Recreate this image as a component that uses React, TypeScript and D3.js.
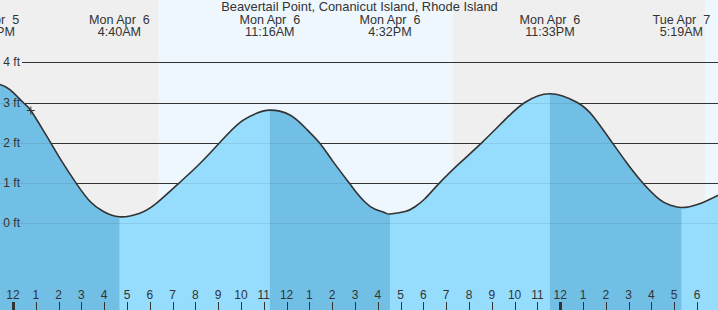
import React from "react";
import * as d3 from "d3";

const W = 718;
const H = 310;

const title = "Beavertail Point, Conanicut Island, Rhode Island";

// Tide curve (local time, feet)
const curveTimes = [
  "2020-04-05T23:26", "2020-04-05T23:52", "2020-04-06T00:27", "2020-04-06T00:47",
  "2020-04-06T01:20", "2020-04-06T01:39", "2020-04-06T02:12", "2020-04-06T02:46",
  "2020-04-06T03:23", "2020-04-06T03:58", "2020-04-06T04:40", "2020-04-06T05:34",
  "2020-04-06T06:18", "2020-04-06T07:17", "2020-04-06T08:12", "2020-04-06T09:05",
  "2020-04-06T09:57", "2020-04-06T10:41", "2020-04-06T11:16", "2020-04-06T12:09",
  "2020-04-06T12:53", "2020-04-06T13:26", "2020-04-06T14:03", "2020-04-06T14:45",
  "2020-04-06T15:00", "2020-04-06T15:26", "2020-04-06T15:53", "2020-04-06T16:19",
  "2020-04-06T16:32", "2020-04-06T17:12", "2020-04-06T17:38", "2020-04-06T18:04",
  "2020-04-06T18:42", "2020-04-06T19:37", "2020-04-06T20:34", "2020-04-06T21:39",
  "2020-04-06T22:27", "2020-04-06T23:33", "2020-04-07T00:45", "2020-04-07T01:27",
  "2020-04-07T02:17", "2020-04-07T02:55", "2020-04-07T03:37", "2020-04-07T04:23",
  "2020-04-07T04:50", "2020-04-07T05:19", "2020-04-07T06:05", "2020-04-07T06:56",
];
const curveFeet = [
  3.45, 3.32, 3.0, 2.8,
  2.3, 2.0, 1.48, 0.99,
  0.53, 0.28, 0.15, 0.24,
  0.49, 0.99, 1.48, 2.01,
  2.5, 2.73, 2.81, 2.69,
  2.33, 2.0, 1.52, 0.99,
  0.8, 0.52, 0.34, 0.25,
  0.22, 0.28, 0.4, 0.6,
  0.99, 1.5, 2.0, 2.61,
  3.0, 3.22, 3.0, 2.65,
  2.0, 1.5, 1.0, 0.57,
  0.44, 0.38, 0.47, 0.69,
];

// High / low tide events
const eventTimes = [
  "2020-04-05T22:59", "2020-04-06T04:40", "2020-04-06T11:16",
  "2020-04-06T16:32", "2020-04-06T23:33", "2020-04-07T05:19",
];
const eventFeet = [3.47, 0.15, 2.81, 0.22, 3.22, 0.38];
const eventDay = ["Sun Apr  5", "Mon Apr  6", "Mon Apr  6", "Mon Apr  6", "Mon Apr  6", "Tue Apr  7"];
const eventClock = ["10:59PM", "4:40AM", "11:16AM", "4:32PM", "11:33PM", "5:19AM"];

// Sun
const sunsetTimes = ["2020-04-05T19:17", "2020-04-06T19:18"];
const sunriseTimes = ["2020-04-06T06:22", "2020-04-07T06:21"];

// Current time marker
const nowTime = "2020-04-06T00:47";
const nowFeet = 2.8;

const yTicks = [0, 1, 2, 3, 4];

const parse = (s: string) => new Date(s);

export default function App() {
  const x = d3
    .scaleTime()
    .domain([parse("2020-04-05T23:25:50"), parse("2020-04-07T06:55:20")])
    .range([0, W]);
  const y = d3.scaleLinear().domain([0, 4]).range([222.8, 62.4]);

  const pts = curveTimes.map((t, i) => ({ t: parse(t), v: curveFeet[i] }));
  const curve = d3.curveNatural;
  const line = d3
    .line<{ t: Date; v: number }>()
    .x((d) => x(d.t))
    .y((d) => y(d.v))
    .curve(curve);
  const area = d3
    .area<{ t: Date; v: number }>()
    .x((d) => x(d.t))
    .y0(H)
    .y1((d) => y(d.v))
    .curve(curve);

  const hours = x.ticks(d3.timeHour.every(1) as any);
  const fmtHour = d3.timeFormat("%-I");

  const font = "'Liberation Sans', Arial, Helvetica, sans-serif";
  const txt = "#333";

  const segs = eventTimes.slice(0, -1).map((t, i) => ({
    a: x(parse(t)),
    b: x(parse(eventTimes[i + 1])),
    down: eventFeet[i] > eventFeet[i + 1],
  }));

  const nx = x(parse(nowTime));
  const ny = y(nowFeet);

  return (
    <svg
      width={W}
      height={H}
      style={{ position: "absolute", left: 0, top: 0, display: "block" }}
      fontFamily={font}
    >
      <defs>
        <clipPath id="tideclip">
          <path d={area(pts) || ""} />
        </clipPath>
      </defs>
      {/* day background */}
      <rect x={0} y={0} width={W} height={H} fill="#eef7fe" />
      {/* nights */}
      {sunsetTimes.map((s, i) => {
        const a = Math.max(0, x(parse(s)));
        const b = Math.min(W, x(parse(sunriseTimes[i])));
        return <rect key={i} x={a} y={0} width={b - a} height={H} fill="#efefef" />;
      })}
      {/* grid lines */}
      {yTicks.map((v) => (
        <line key={v} x1={22} x2={W} y1={Math.round(y(v)) + 0.5} y2={Math.round(y(v)) + 0.5} stroke="#333" strokeWidth={1.2} />
      ))}
      {/* tide fill */}
      <path d={area(pts) || ""} fill="#96dcfd" />
      <g clipPath="url(#tideclip)">
        {segs
          .filter((s) => s.down)
          .map((s, i) => (
            <rect key={i} x={Math.max(0, s.a)} y={0} width={Math.min(W, s.b) - Math.max(0, s.a)} height={H} fill="#71bfe5" />
          ))}
        {yTicks.map((v) => (
          <line key={v} x1={0} x2={W} y1={Math.round(y(v)) + 0.5} y2={Math.round(y(v)) + 0.5} stroke="#000" strokeOpacity={0.08} strokeWidth={1.2} />
        ))}
      </g>
      <path d={line(pts) || ""} fill="none" stroke="#333" strokeWidth={1.6} />
      {/* now marker */}
      <line x1={nx - 4} x2={nx + 4} y1={ny} y2={ny} stroke="#333" strokeWidth={1} />
      <line x1={nx} x2={nx} y1={ny - 4} y2={ny + 4} stroke="#333" strokeWidth={1} />
      {/* y labels */}
      {yTicks.map((v) => (
        <text key={v} x={20} y={y(v) + 4} textAnchor="end" fontSize={12} fill={txt}>
          {`${v} ft`}
        </text>
      ))}
      {/* title */}
      <text x={359.5} y={11} textAnchor="middle" fontSize={12.9} fill={txt}>
        {title}
      </text>
      {/* event labels */}
      {eventTimes.map((t, i) => (
        <g key={i} fontSize={12.6} fill={txt} textAnchor="middle">
          <text x={x(parse(t))} y={24} xmlSpace="preserve" style={{ whiteSpace: "pre" }}>
            {eventDay[i]}
          </text>
          <text x={x(parse(t))} y={36}>{eventClock[i]}</text>
        </g>
      ))}
      {/* hour axis */}
      {hours.map((h, i) => {
        const hx = x(h);
        const midnight = h.getHours() === 0;
        return (
          <g key={i}>
            <line
              x1={Math.round(hx) + 0.5}
              x2={Math.round(hx) + 0.5}
              y1={302}
              y2={H}
              stroke="#333"
              strokeWidth={midnight ? 3 : 1}
            />
            <text x={hx} y={299} textAnchor="middle" fontSize={12} fill={txt}>
              {fmtHour(h)}
            </text>
          </g>
        );
      })}
    </svg>
  );
}
